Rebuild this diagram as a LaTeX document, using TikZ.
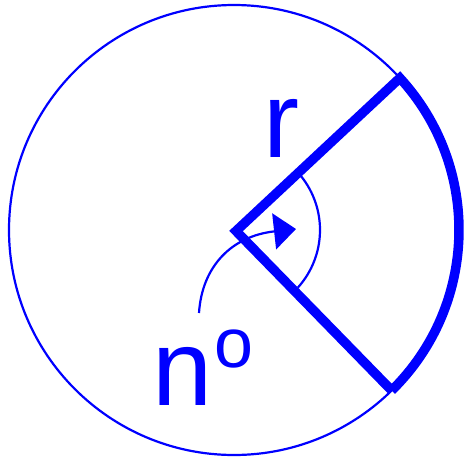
\documentclass[tikz,border=0pt]{standalone}
\usepackage{fontspec}
\setmainfont{Liberation Sans}
\usetikzlibrary{arrows.meta}
\definecolor{pureblue}{RGB}{0,0,255}
\tikzset{
  thinline/.style={draw=pureblue, line width=2.2pt},
  thickline/.style={draw=pureblue, line width=9.5pt, line join=miter},
  bigtext/.style={text=pureblue, inner sep=0pt, font=\fontsize{108}{120}\selectfont},
}
\begin{document}
\begin{tikzpicture}[x=1pt,y=-1pt]
\useasboundingbox (0,0) rectangle (464,461);
\coordinate (O) at (236,231);
\coordinate (C) at (234,230);
\coordinate (A) at ([shift={(42.5:225pt)}]C);
\coordinate (B) at ([shift={(-45.5:225pt)}]C);
% circle
\draw[thinline] (C) circle[radius=225pt];
% sector
\draw[thickline] (B) -- (O) -- (A) arc[start angle=42.5, end angle=-45.5, radius=225pt];
% angle arc
\draw[thinline] ([shift={(39:86pt)}]C) arc[start angle=39, end angle=-42, radius=86pt];
% arrow
\coordinate (S) at (199,313);
\coordinate (T) at (296,229);
\draw[thinline, -{Triangle[length=22pt,width=36pt,fill=pureblue]}] (S) .. controls (202,266) and (232,236) .. (T);
% labels
\node[bigtext, anchor=base] (r) at (281,157) {r};
\node[bigtext, anchor=base west] (n) at (152,405) {n\kern2pt\raisebox{38pt}{\fontsize{70}{80}\selectfont o}};
\end{tikzpicture}
\end{document}
